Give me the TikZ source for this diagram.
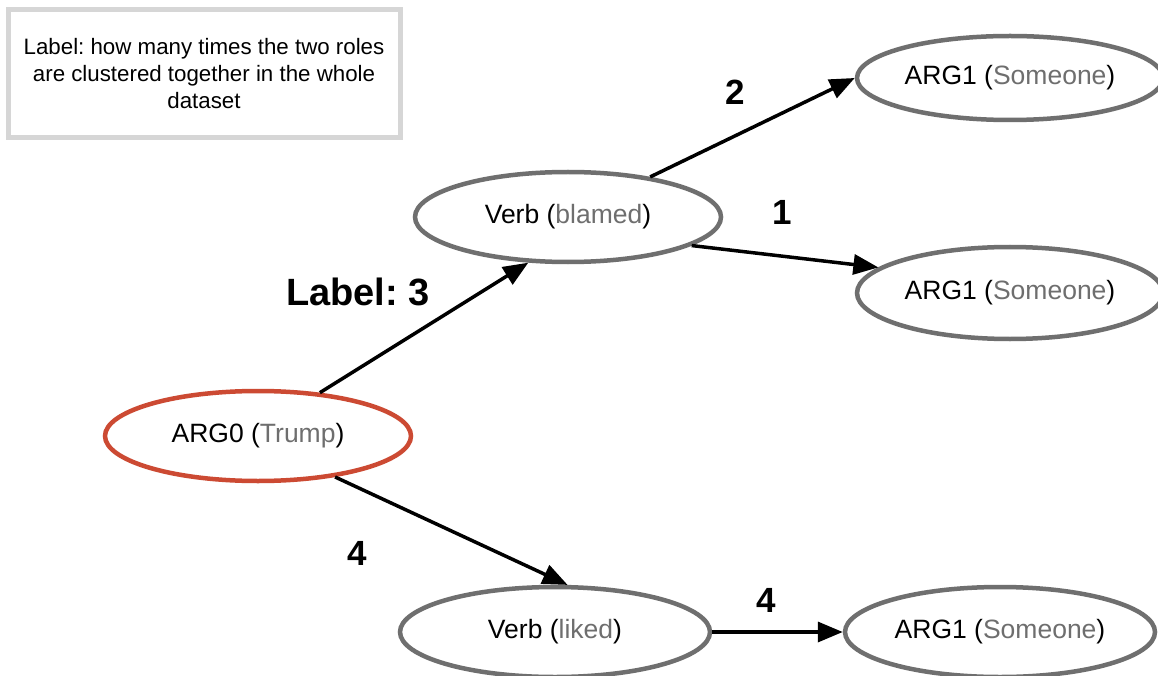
\documentclass[tikz,border=0pt]{standalone}
\usepackage{fontspec}
\setmainfont{Liberation Sans}
\usetikzlibrary{shapes.geometric,arrows.meta}
\definecolor{ringgray}{HTML}{6F6F6F}
\definecolor{wordgray}{HTML}{6E6E6E}
\definecolor{ringred}{HTML}{CC4A33}
\definecolor{boxgray}{HTML}{D6D6D6}
\tikzset{
  role/.style={ellipse, draw=ringgray, line width=4.5pt, inner sep=0pt,
    minimum width=306pt, minimum height=90pt, font=\fontsize{26.5}{30}\selectfont},
  rolered/.style={role, draw=ringred},
  link/.style={line width=3.5pt, -{Triangle[length=25pt,width=20pt]}},
  count/.style={font=\bfseries\fontsize{35}{40}\selectfont},
  notebox/.style={draw=boxgray, line width=5pt, minimum width=392pt, minimum height=128pt,
    align=center, font=\fontsize{22.3}{27}\selectfont}
}
\newcommand{\gw}[1]{\textcolor{wordgray}{#1}}
\newcommand{\lowtext}[1]{\raisebox{-2.5pt}{#1}}
\begin{document}
\frenchspacing
\begin{tikzpicture}[x=1pt,y=-1pt]
\useasboundingbox (0,0) rectangle (1158,676);
\fill[white] (0,0) rectangle (1158,676);
\node[notebox] (note) at (204,74) {Label: how many times the two roles\\are clustered together in the whole\\dataset};
\node[rolered] (arg0) at (258,436) {\lowtext{ARG0 (\gw{Trump})}};
\node[role] (vb) at (568,217) {\lowtext{Verb (\gw{blamed})}};
\node[role, minimum height=84pt] (a1) at (1010,78) {\lowtext{ARG1 (\gw{Someone})}};
\node[role, minimum height=92pt] (a2) at (1010,293) {\lowtext{ARG1 (\gw{Someone})}};
\node[role, minimum width=310pt] (vl) at (555,632) {\lowtext{Verb (\gw{liked})}};
\node[role, minimum width=310pt] (a3) at (1000,632) {\lowtext{ARG1 (\gw{Someone})}};
\draw[link] (arg0.35) -- (vb.229);
\draw[link] (vb.26) -- (a1.west);
\draw[link] (vb.-13) -- (a2.169);
\draw[link] (arg0.-28) -- (vl.75);
\draw[link] (vl.east) -- (a3.west);
\node[count, font=\bfseries\fontsize{38}{42}\selectfont] (l3) at (358,292) {Label: 3};
\node[count] (l2) at (735,92) {2};
\node[count] (l1) at (782,212) {1};
\node[count] (l4a) at (357,553) {4};
\node[count] (l4b) at (766,600) {4};
\end{tikzpicture}
\end{document}
